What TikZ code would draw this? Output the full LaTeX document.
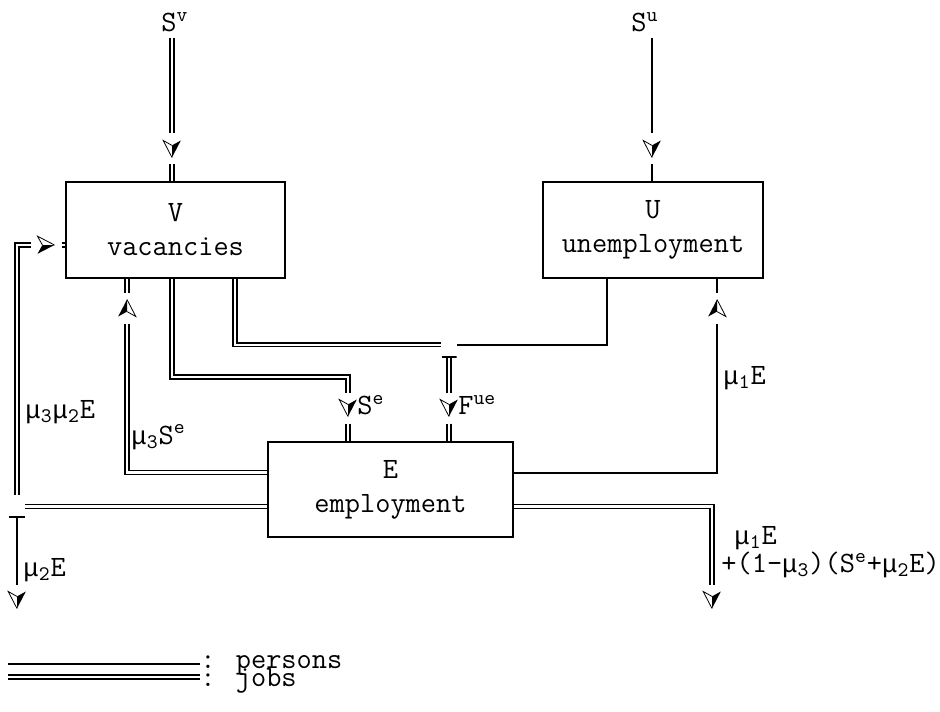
\documentclass[tikz,border=0pt]{standalone}
\usepackage{fontspec}
\newfontfamily\mufont[Scale=0.87]{Liberation Mono}
\usetikzlibrary{calc}

\newcommand{\mug}{{\mufont μ}}

\begin{document}
\begin{tikzpicture}[x=0.5pt, y=-0.5pt,
    font=\ttfamily\fontsize{14.76pt}{17pt}\selectfont,
    box/.style={rectangle, draw, line width=1pt, align=center, inner sep=0pt},
    persons/.style={line width=1pt},
    jobs/.style={double, line width=0.8pt, double distance=1.1pt},
    lbl/.style={anchor=west, inner sep=0pt},
    src/.style={inner sep=1pt, outer sep=2pt},
    head/.style={inner sep=0pt, minimum size=10pt, outer sep=2.75pt},
    % half filled arrow heads
    headright/.style={head, path picture={
      \fill (path picture bounding box.center) ++(4.25pt,0pt) -- ++(-8.5pt,-4.4pt) -- ++(2.45pt,4.4pt) -- cycle;
      \draw[line width=0.4pt] (path picture bounding box.center) ++(4.25pt,0pt) -- ++(-8.5pt,4.4pt) -- ++(2.45pt,-4.4pt);}},
    headdown/.style={head, path picture={
      \fill (path picture bounding box.center) ++(0pt,-4.25pt) -- ++(4.4pt,8.5pt) -- ++(-4.4pt,-2.45pt) -- cycle;
      \draw[line width=0.4pt] (path picture bounding box.center) ++(0pt,-4.25pt) -- ++(-4.4pt,8.5pt) -- ++(4.4pt,-2.45pt);}},
    headup/.style={head, path picture={
      \fill (path picture bounding box.center) ++(0pt,4.25pt) -- ++(-4.4pt,-8.5pt) -- ++(4.4pt,2.45pt) -- cycle;
      \draw[line width=0.4pt] (path picture bounding box.center) ++(0pt,4.25pt) -- ++(4.4pt,-8.5pt) -- ++(-4.4pt,2.45pt);}},
    tick/.style={inner sep=0pt, path picture={\draw[line width=1pt]
      ([yshift=0.5pt]path picture bounding box.south west) --
      ([yshift=0.5pt]path picture bounding box.south east);}}
  ]
  \useasboundingbox (0,0) rectangle (940,711);

  % stocks
  \node[box, minimum width=109.5pt, minimum height=48pt] (vbox) at (175.5,230) {V\\vacancies};
  \node[box, minimum width=110pt, minimum height=48pt] (ubox) at (653,230) {U\\unemployment};
  \node[box, minimum width=122.5pt, minimum height=47.5pt] (ebox) at (390.5,489.5) {E\\employment};

  % sources
  \node[src] (sv) at (175,22) {S\textsuperscript{v}};
  \node[src] (su) at (645,22) {S\textsuperscript{u}};

  % arrow heads
  \node[headdown] (hsv) at (172,149) {};
  \node[headdown] (hsu) at (652,149) {};
  \node[headright] (hvl) at (46,245) {};
  \node[headup] (hve) at (127,308) {};
  \node[headup] (hue) at (717,308) {};
  \node[headdown] (hse) at (348,408) {};
  \node[headdown] (hfue) at (449,408) {};
  \node[headdown] (hquit) at (17,600) {};
  \node[headdown] (hout) at (712,600) {};

  % junctions
  \node[tick, minimum width=8pt, minimum height=11pt] (fork) at (17,506.5) {};
  \node[tick, minimum width=7.5pt, minimum height=6.5pt] (match) at (449,351.5) {};

  % inflows
  \draw[jobs] (sv.south -| hsv) -- (hsv);
  \draw[jobs] (hsv) -- (hsv |- vbox.north);
  \draw[persons] (su.south -| hsu) -- (hsu);
  \draw[persons] (hsu) -- (hsu |- ubox.north);

  % matching
  \draw[jobs] ([xshift=29.75pt]vbox.south) |- (match.north west);
  \draw[persons] ([xshift=-23pt]ubox.south) |- (match.north east);
  \draw[jobs] (match) -- (hfue);
  \draw[jobs] (hfue) -- (hfue |- ebox.north);

  \draw[jobs] ([xshift=-1.75pt]vbox.south) -- ++(0,98) -| (hse);
  \draw[jobs] (hse) -- (hse |- ebox.north);

  % flows out of E
  \draw[jobs] ([yshift=8.5pt]ebox.west) -| (hve);
  \draw[jobs] (hve) -- (hve |- vbox.south);
  \draw[jobs] ([yshift=-8.5pt]ebox.west) -- (fork.east);
  \draw[jobs] (fork) |- (hvl);
  \draw[jobs] (hvl) -- (hvl -| vbox.west);
  \draw[persons] (fork) -- (hquit);
  \draw[persons] ([yshift=8.5pt]ebox.east) -| (hue);
  \draw[persons] (hue) -- (hue |- ubox.south);
  \draw[jobs] ([yshift=-8.5pt]ebox.east) -| (hout);

  % labels
  \node[lbl] at (131,437) {\mug\textsubscript{3}S\textsuperscript{e}};
  \node[lbl] at (25,412) {\mug\textsubscript{3}\mug\textsubscript{2}E};
  \node[lbl] at (357,405) {S\textsuperscript{e}};
  \node[lbl] at (458,405) {F\textsuperscript{ue}};
  \node[lbl] at (723,378) {\mug\textsubscript{1}E};
  \node[lbl] at (23,570) {\mug\textsubscript{2}E};
  \node[lbl] at (734,538) {\mug\textsubscript{1}E};
  \node[lbl] at (721,565) {+(1-\mug\textsubscript{3})(S\textsuperscript{e}+\mug\textsubscript{2}E)};

  % legend
  \node[lbl] (lgp) at (200,665) {: persons};
  \node[lbl] (lgj) at (200,681) {: jobs};
  \coordinate (lp) at (8,664);
  \coordinate (lj) at (8,677);
  \draw[persons] (lp) -- (lp -| lgp.west);
  \draw[jobs] (lj) -- (lj -| lgj.west);
\end{tikzpicture}
\end{document}
